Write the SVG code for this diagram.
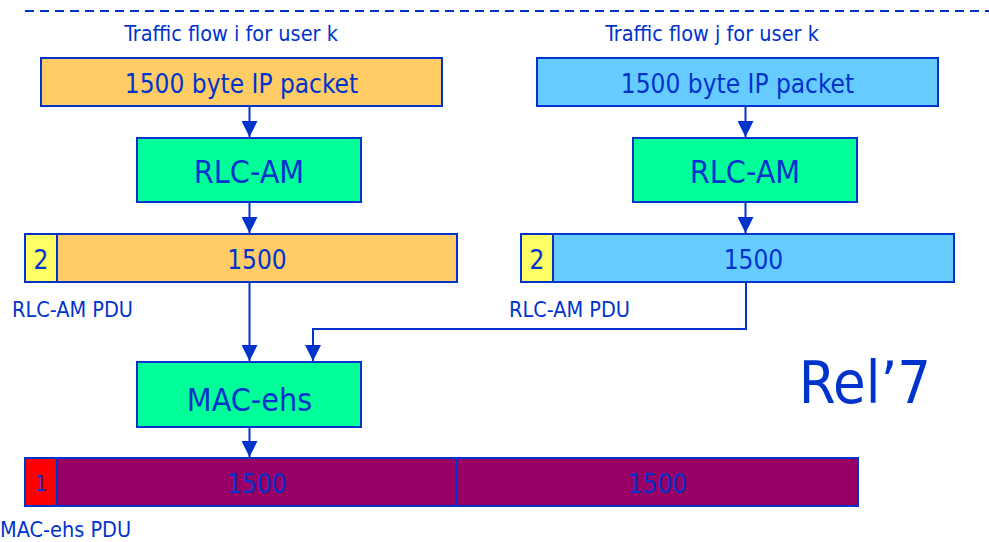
<svg xmlns="http://www.w3.org/2000/svg" width="989" height="542" viewBox="0 0 989 542">
  <style>
    text { font-family: "DejaVu Sans Condensed", "DejaVu Sans", sans-serif; font-stretch: condensed; fill: #0033CC; }
    .mid { text-anchor: middle; }
    .lbl { font-size: 21.5px; }
    .big { font-size: 26px; }
    .blk { font-size: 32px; }
    .box { stroke: #0033CC; stroke-width: 2; }
    .orange { fill: #FFCC66; }
    .sky { fill: #66CCFF; }
    .green { fill: #00FF99; }
    .yellow { fill: #FFFF66; }
    .red { fill: #FF0000; }
    .plum { fill: #990066; }
    .wire { fill: none; stroke: #0033CC; stroke-width: 2; }
  </style>
  <defs>
    <!-- solid triangular head, 16 long and 16 wide -->
    <marker id="arrow" markerWidth="16" markerHeight="16" refX="16" refY="8" orient="auto" markerUnits="userSpaceOnUse" viewBox="0 0 16 16">
      <path d="M0,0 L16,8 L0,16 Z" fill="#0033CC"/>
    </marker>
  </defs>

  <!-- separator -->
  <line x1="25" y1="11" x2="989" y2="11" stroke="#0033CC" stroke-width="2" stroke-dasharray="9 6"/>

  <text class="lbl mid" x="231" y="41">Traffic flow i for user k</text>
  <text class="lbl mid" x="712" y="41">Traffic flow j for user k</text>

  <g id="ip-packet-i">
    <rect class="box orange" x="41" y="58" width="401" height="48"/>
    <text class="big mid" x="241.5" y="93">1500 byte IP packet</text>
  </g>
  <g id="ip-packet-j">
    <rect class="box sky" x="537" y="58" width="401" height="48"/>
    <text class="big mid" x="737.5" y="93">1500 byte IP packet</text>
  </g>

  <g id="rlc-am-i">
    <rect class="box green" x="137" y="138" width="224" height="64"/>
    <text class="blk mid" x="249" y="183">RLC-AM</text>
  </g>
  <g id="rlc-am-j">
    <rect class="box green" x="633" y="138" width="224" height="64"/>
    <text class="blk mid" x="745" y="183">RLC-AM</text>
  </g>

  <g id="rlc-pdu-i">
    <rect class="box yellow" x="25" y="234" width="32" height="48"/>
    <rect class="box orange" x="57" y="234" width="400" height="48"/>
    <text class="big mid" x="41" y="269">2</text>
    <text class="big mid" x="257" y="269">1500</text>
    <text class="lbl" x="12" y="317">RLC-AM PDU</text>
  </g>
  <g id="rlc-pdu-j">
    <rect class="box yellow" x="521" y="234" width="32" height="48"/>
    <rect class="box sky" x="553" y="234" width="401" height="48"/>
    <text class="big mid" x="537" y="269">2</text>
    <text class="big mid" x="753.5" y="269">1500</text>
    <text class="lbl" x="509" y="317">RLC-AM PDU</text>
  </g>

  <g id="mac-ehs">
    <rect class="box green" x="137" y="362" width="224" height="65"/>
    <text class="blk mid" x="249.5" y="411">MAC-ehs</text>
  </g>

  <g id="mac-pdu">
    <rect class="box red" x="25" y="458" width="32" height="48"/>
    <rect class="box plum" x="57" y="458" width="400" height="48"/>
    <rect class="box plum" x="457" y="458" width="401" height="48"/>
    <text class="mid" style="font-size:21px" x="41" y="491">1</text>
    <text class="big mid" x="257" y="493">1500</text>
    <text class="big mid" x="657.5" y="493">1500</text>
    <text class="lbl" x="0" y="537">MAC-ehs PDU</text>
  </g>

  <g id="release">
    <text x="865" y="403" class="mid" style="font-size:59px">Rel’7</text>
  </g>

  <g id="connectors">
    <line class="wire" x1="249.5" y1="106" x2="249.5" y2="137" marker-end="url(#arrow)"/>
    <line class="wire" x1="745.5" y1="106" x2="745.5" y2="137" marker-end="url(#arrow)"/>
    <line class="wire" x1="249.5" y1="202" x2="249.5" y2="233" marker-end="url(#arrow)"/>
    <line class="wire" x1="745.5" y1="202" x2="745.5" y2="233" marker-end="url(#arrow)"/>
    <line class="wire" x1="249.5" y1="282" x2="249.5" y2="361" marker-end="url(#arrow)"/>
    <polyline class="wire" points="746,282 746,329 313,329 313,361" marker-end="url(#arrow)"/>
    <line class="wire" x1="249.5" y1="427" x2="249.5" y2="457" marker-end="url(#arrow)"/>
  </g>
</svg>
